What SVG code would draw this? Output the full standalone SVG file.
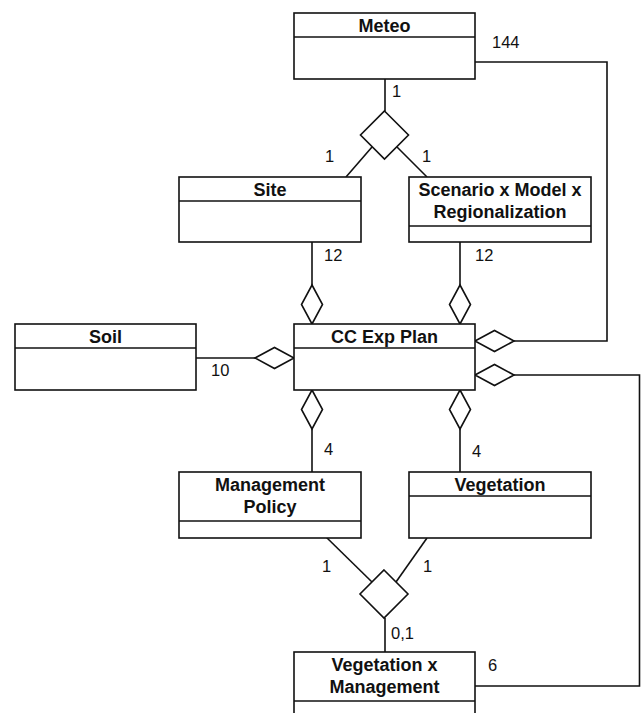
<svg xmlns="http://www.w3.org/2000/svg" width="641" height="713" viewBox="0 0 641 713">
<style>
.box{fill:#fff;stroke:#111;stroke-width:1.6}
.sep{stroke:#111;stroke-width:1.6}
.ln{fill:none;stroke:#111;stroke-width:1.6}
.dia{fill:#fff;stroke:#111;stroke-width:1.6}
.t{font-family:"Liberation Sans",Arial,sans-serif;font-weight:bold;font-size:18px;text-anchor:middle;fill:#111}
.m{font-family:"Liberation Sans",Arial,sans-serif;font-size:16.5px;fill:#111}
</style>
<rect width="641" height="713" fill="#fff"/>
<g id="connectors">
  <line class="ln" x1="385" y1="79" x2="385" y2="111"/>
  <polygon class="dia" points="384.5,111 408.5,135 384.5,159 360.5,135"/>
  <line class="ln" x1="372" y1="147" x2="346" y2="177"/>
  <line class="ln" x1="397" y1="147" x2="427" y2="177"/>
  <line class="ln" x1="312" y1="242" x2="312" y2="285"/>
  <polygon class="dia" points="312,285 322.5,304.5 312,324 301.5,304.5"/>
  <line class="ln" x1="460" y1="242" x2="460" y2="285"/>
  <polygon class="dia" points="460,285 470.5,304.5 460,324 449.5,304.5"/>
  <line class="ln" x1="196" y1="358" x2="255" y2="358"/>
  <polygon class="dia" points="255,358 274.5,347.5 294,358 274.5,368.5"/>
  <polyline class="ln" points="475,62 607,62 607,341 514,341"/>
  <polygon class="dia" points="475,341 494.5,330.5 514,341 494.5,351.5"/>
  <polyline class="ln" points="475,686 639.5,686 639.5,375 514,375"/>
  <polygon class="dia" points="475,375 494.5,364.5 514,375 494.5,385.5"/>
  <polygon class="dia" points="312,390 322.5,409.5 312,429 301.5,409.5"/>
  <line class="ln" x1="312" y1="429" x2="312" y2="472"/>
  <polygon class="dia" points="460,390 470.5,409.5 460,429 449.5,409.5"/>
  <line class="ln" x1="460" y1="429" x2="460" y2="472"/>
  <line class="ln" x1="325" y1="536" x2="372" y2="582"/>
  <line class="ln" x1="427" y1="538" x2="396" y2="582"/>
  <polygon class="dia" points="384,570 408,594 384,618 360,594"/>
  <line class="ln" x1="385" y1="618" x2="385" y2="652"/>
  <text class="m" x="492" y="48">144</text>
  <text class="m" x="392" y="97">1</text>
  <text class="m" x="325" y="162">1</text>
  <text class="m" x="422" y="162">1</text>
  <text class="m" x="324" y="261">12</text>
  <text class="m" x="475" y="261">12</text>
  <text class="m" x="211" y="376">10</text>
  <text class="m" x="324" y="455">4</text>
  <text class="m" x="472" y="457">4</text>
  <text class="m" x="322" y="572">1</text>
  <text class="m" x="423" y="572">1</text>
  <text class="m" x="391" y="639">0,1</text>
  <text class="m" x="488" y="671">6</text>
</g>
<g id="meteo">
  <rect class="box" x="294" y="13" width="181" height="66"/>
  <line class="sep" x1="294" y1="37" x2="475" y2="37"/>
  <text class="t" x="384.5" y="31.5">Meteo</text>
</g>
<g id="site">
  <rect class="box" x="179" y="177" width="182" height="65"/>
  <line class="sep" x1="179" y1="201" x2="361" y2="201"/>
  <text class="t" x="270" y="195.5">Site</text>
</g>
<g id="scenario">
  <rect class="box" x="409" y="177" width="182" height="65"/>
  <line class="sep" x1="409" y1="226" x2="591" y2="226"/>
  <text class="t" x="500" y="195.5">Scenario x Model x</text>
  <text class="t" x="500" y="217.5">Regionalization</text>
</g>
<g id="soil">
  <rect class="box" x="15" y="324" width="181" height="66"/>
  <line class="sep" x1="15" y1="348" x2="196" y2="348"/>
  <text class="t" x="105.5" y="342.5">Soil</text>
</g>
<g id="ccexpplan">
  <rect class="box" x="294" y="324" width="181" height="66"/>
  <line class="sep" x1="294" y1="348" x2="475" y2="348"/>
  <text class="t" x="384.5" y="342.5">CC Exp Plan</text>
</g>
<g id="managementpolicy">
  <rect class="box" x="179" y="472" width="182" height="66"/>
  <line class="sep" x1="179" y1="521" x2="361" y2="521"/>
  <text class="t" x="270" y="490.5">Management</text>
  <text class="t" x="270" y="513">Policy</text>
</g>
<g id="vegetation">
  <rect class="box" x="409" y="472" width="182" height="66"/>
  <line class="sep" x1="409" y1="496" x2="591" y2="496"/>
  <text class="t" x="500" y="490.5">Vegetation</text>
</g>
<g id="vegxmgmt">
  <rect class="box" x="294" y="652" width="181" height="80"/>
  <line class="sep" x1="294" y1="701" x2="475" y2="701"/>
  <text class="t" x="384.5" y="670.5">Vegetation x</text>
  <text class="t" x="384.5" y="693">Management</text>
</g>
</svg>
